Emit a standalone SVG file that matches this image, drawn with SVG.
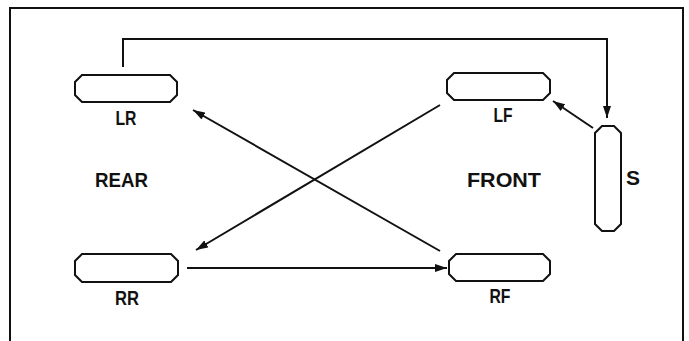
<svg xmlns="http://www.w3.org/2000/svg" width="689" height="341" viewBox="0 0 689 341">
<defs>
<style>
.box{fill:#fff;stroke:#111;stroke-width:2}
.lbl{font-family:"Liberation Sans",Arial,sans-serif;font-weight:bold;font-size:21px;fill:#111;text-anchor:middle}
.ln{fill:none;stroke:#111;stroke-width:2}
</style>
<marker id="ah" viewBox="0 0 12 8" refX="12" refY="4" markerWidth="12" markerHeight="8" markerUnits="userSpaceOnUse" orient="auto">
<path d="M0 0 L12 4 L0 8 Z" fill="#111"/>
</marker>
</defs>
<rect width="689" height="341" fill="#fff"/>
<path d="M10 341 V8 H683 V341" fill="none" stroke="#111" stroke-width="2"/>
<g id="connectors">
<path class="ln" d="M123 67 V39 H607 V118" marker-end="url(#ah)"/>
<line class="ln" x1="593" y1="128" x2="553" y2="101" marker-end="url(#ah)"/>
<line class="ln" x1="440" y1="251" x2="193" y2="110" marker-end="url(#ah)"/>
<line class="ln" x1="440" y1="105" x2="196" y2="250" marker-end="url(#ah)"/>
<line class="ln" x1="187" y1="268" x2="447" y2="268" marker-end="url(#ah)"/>
</g>
<g id="LR">
<polygon class="box" points="82,75 170,75 177,82 177,95 170,102 82,102 75,95 75,82"/>
<text class="lbl" x="126" y="125" textLength="21" lengthAdjust="spacingAndGlyphs">LR</text>
</g>
<g id="LF">
<polygon class="box" points="454,73 543,73 550,80 550,93 543,100 454,100 447,93 447,80"/>
<text class="lbl" x="503" y="122" textLength="19" lengthAdjust="spacingAndGlyphs">LF</text>
</g>
<g id="RR">
<polygon class="box" points="82,254 171,254 178,261 178,275 171,282 82,282 75,275 75,261"/>
<text class="lbl" x="127" y="305" textLength="24" lengthAdjust="spacingAndGlyphs">RR</text>
</g>
<g id="RF">
<polygon class="box" points="456,254 543,254 550,261 550,274 543,281 456,281 449,274 449,261"/>
<text class="lbl" x="500" y="303" textLength="21" lengthAdjust="spacingAndGlyphs">RF</text>
</g>
<g id="S">
<polygon class="box" points="602,126 614,126 621,133 621,224 614,231 602,231 595,224 595,133"/>
<text class="lbl" x="633" y="185">S</text>
</g>
<g id="REAR">
<text class="lbl" x="121.5" y="187" textLength="53" lengthAdjust="spacingAndGlyphs">REAR</text>
</g>
<g id="FRONT">
<text class="lbl" x="504" y="187" textLength="74" lengthAdjust="spacingAndGlyphs">FRONT</text>
</g>
</svg>
